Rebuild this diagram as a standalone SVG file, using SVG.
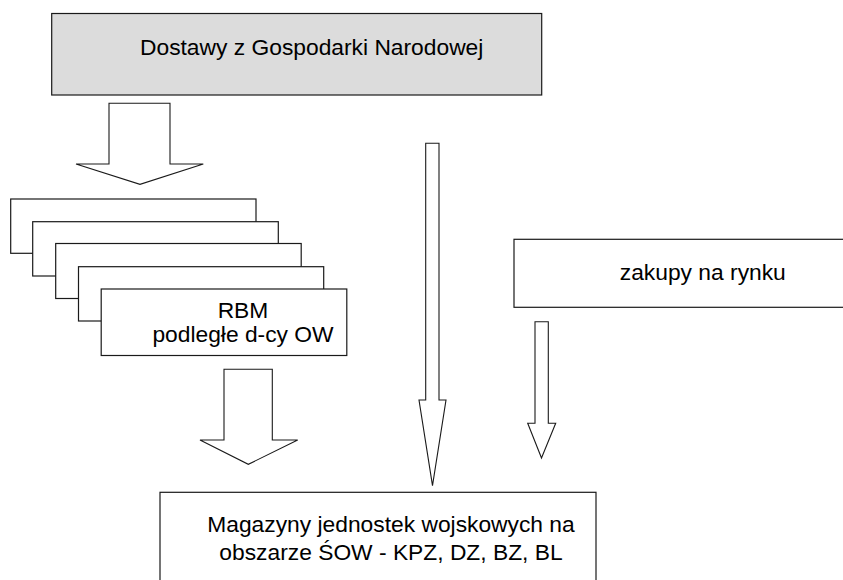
<svg xmlns="http://www.w3.org/2000/svg" width="843" height="580" viewBox="0 0 843 580">
<style>
.box{fill:#ffffff;stroke:#1a1a1a;stroke-width:1.2}
.gray{fill:#dcdcdc}
.arrow{fill:#ffffff;stroke:#1a1a1a;stroke-width:1.1;stroke-linejoin:miter}
text{font-family:"Liberation Sans",Arial,sans-serif;font-size:22.8px;fill:#000000}
</style>
<rect width="843" height="580" fill="#ffffff"/>
<g id="node-dostawy">
<rect class="box gray" x="51.7" y="13.5" width="490" height="81.5"/>
<text x="311.7" y="55" text-anchor="middle">Dostawy z Gospodarki Narodowej</text>
</g>
<g id="node-rbm">
<rect class="box" x="10.7" y="199" width="245.3" height="54.3"/>
<rect class="box" x="32.7" y="221.7" width="245.6" height="54.3"/>
<rect class="box" x="55.7" y="243.5" width="245.5" height="55"/>
<rect class="box" x="78.5" y="266.7" width="245.2" height="54.3"/>
<rect class="box" x="101.2" y="289" width="245.6" height="66.5"/>
<text x="243" y="318.3" text-anchor="middle">RBM</text>
<text x="243" y="341.7" text-anchor="middle">podległe d-cy OW</text>
</g>
<g id="node-zakupy">
<rect class="box" x="514" y="239.3" width="340" height="68"/>
<text x="702.8" y="280" text-anchor="middle">zakupy na rynku</text>
</g>
<g id="node-magazyny">
<rect class="box" x="160" y="492.3" width="436" height="100"/>
<text x="391" y="532.3" text-anchor="middle">Magazyny jednostek wojskowych na</text>
<text x="391" y="560" text-anchor="middle">obszarze ŚOW - KPZ, DZ, BZ, BL</text>
</g>
<g id="connectors">
<polygon class="arrow" points="109,103.3 170,103.3 170,164 203.3,164 140,184.3 76,164 109,164"/>
<polygon class="arrow" points="224,369.3 272.3,369.3 272.3,440 297.7,440 248.3,464.3 200,440 224,440"/>
<polygon class="arrow" points="425.7,143.3 439,143.3 439,400 446,400 432.5,485.7 419,400 425.7,400"/>
<polygon class="arrow" points="535,321.7 548.3,321.7 548.3,423.3 555.7,423.3 541.5,458 527.7,423.3 535,423.3"/>
</g>
</svg>
